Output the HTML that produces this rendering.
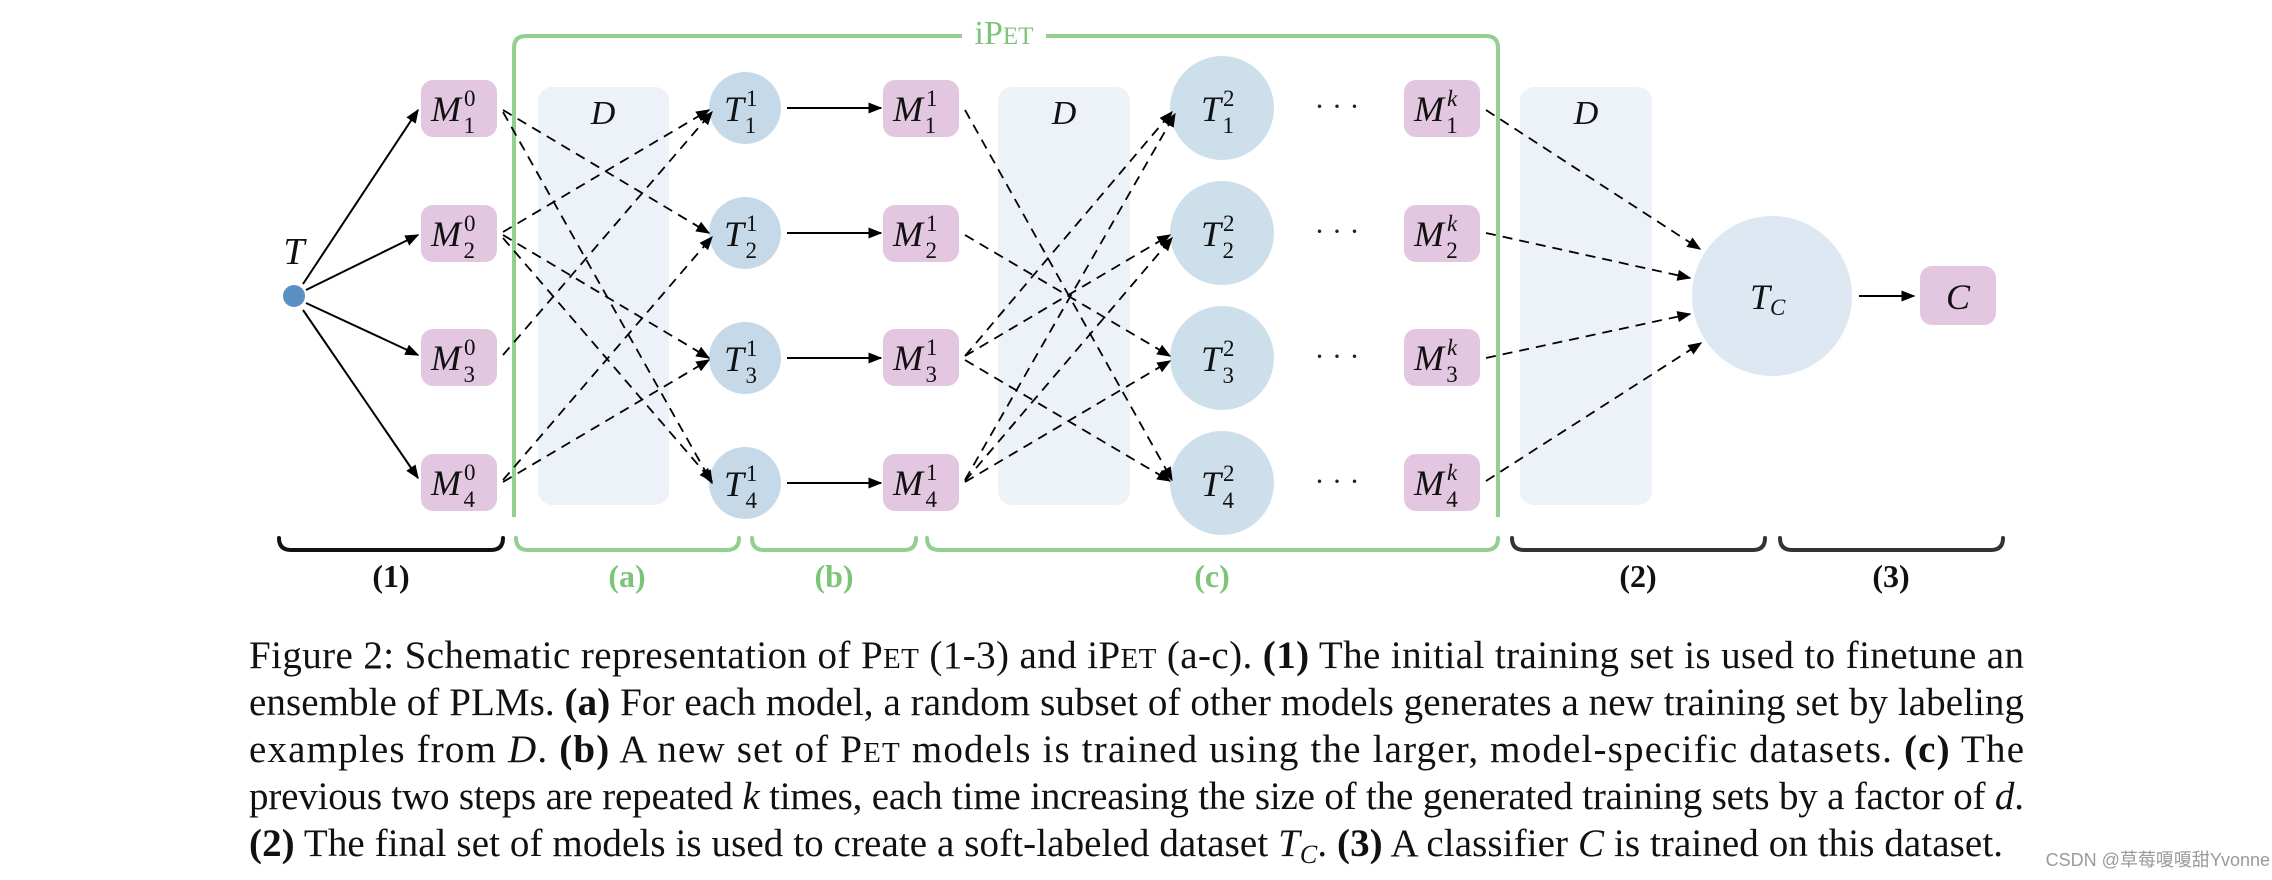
<!DOCTYPE html>
<html><head><meta charset="utf-8"><style>
html,body{margin:0;padding:0;background:#fff;}
svg{display:block;}
.m{font-family:"Liberation Serif",serif;font-style:italic;}
.cap{font-family:"Liberation Serif",serif;font-size:39px;fill:#111;}
</style></head><body>
<svg width="2272" height="880" viewBox="0 0 2272 880" xmlns="http://www.w3.org/2000/svg">
<defs>
<marker id="ah" viewBox="0 0 10 10" refX="9" refY="5" markerWidth="14" markerHeight="14" markerUnits="userSpaceOnUse" orient="auto"><path d="M0,1 L10,5 L0,9 z" fill="#000"/></marker>
</defs>
<rect x="538" y="87" width="131" height="418" rx="14" fill="#edf2f8"/>
<rect x="998" y="87" width="132" height="418" rx="14" fill="#edf2f8"/>
<rect x="1520" y="87" width="132" height="418" rx="14" fill="#edf2f8"/>
<g class="m" font-size="34" fill="#111" text-anchor="middle">
<text x="603" y="124">D</text><text x="1064" y="124">D</text><text x="1586" y="124">D</text>
</g>
<path d="M514,517 L514,48 Q514,36 526,36 L962,36" fill="none" stroke="#93d08f" stroke-width="4"/>
<path d="M1046,36 L1486,36 Q1498,36 1498,48 L1498,517" fill="none" stroke="#93d08f" stroke-width="4"/>
<text x="1004" y="44" font-family="Liberation Serif,serif" font-size="34" fill="#7cc478" text-anchor="middle">iP<tspan font-size="25">ET</tspan></text>

<text x="294" y="264" class="m" font-size="38" text-anchor="middle" fill="#111">T</text>
<circle cx="294" cy="296" r="11" fill="#5b8fc2"/>
<g stroke="#000" stroke-width="2" marker-end="url(#ah)">
<line x1="303" y1="284" x2="418" y2="110"/>
<line x1="306" y1="290" x2="418" y2="235"/>
<line x1="306" y1="303" x2="418" y2="355"/>
<line x1="303" y1="310" x2="418" y2="478"/>
</g>

<g fill="#e3c6df">
<rect x="421" y="80" width="76" height="57" rx="12"/><rect x="421" y="205" width="76" height="57" rx="12"/>
<rect x="421" y="329" width="76" height="57" rx="12"/><rect x="421" y="454" width="76" height="57" rx="12"/>
<rect x="883" y="80" width="76" height="57" rx="12"/><rect x="883" y="205" width="76" height="57" rx="12"/>
<rect x="883" y="329" width="76" height="57" rx="12"/><rect x="883" y="454" width="76" height="57" rx="12"/>
<rect x="1404" y="80" width="76" height="57" rx="12"/><rect x="1404" y="205" width="76" height="57" rx="12"/>
<rect x="1404" y="329" width="76" height="57" rx="12"/><rect x="1404" y="454" width="76" height="57" rx="12"/>
<rect x="1920" y="266" width="76" height="59" rx="12"/>
</g>
<g fill="#c6d9e8">
<circle cx="745" cy="108" r="36"/><circle cx="745" cy="233" r="36"/><circle cx="745" cy="358" r="36"/><circle cx="745" cy="483" r="36"/>
</g>
<g fill="#cddfeb">
<circle cx="1222" cy="108" r="52"/><circle cx="1222" cy="233" r="52"/><circle cx="1222" cy="358" r="52"/><circle cx="1222" cy="483" r="52"/>
</g>
<circle cx="1772" cy="296" r="80" fill="#dde8f2"/>

<g class="m" font-size="36" fill="#111">
<text x="431" y="121">M<tspan font-size="23" font-style="normal" dy="-15" dx="3">0</tspan><tspan font-size="23" font-style="normal" dy="27" dx="-12">1</tspan></text>
<text x="431" y="246">M<tspan font-size="23" font-style="normal" dy="-15" dx="3">0</tspan><tspan font-size="23" font-style="normal" dy="27" dx="-12">2</tspan></text>
<text x="431" y="370">M<tspan font-size="23" font-style="normal" dy="-15" dx="3">0</tspan><tspan font-size="23" font-style="normal" dy="27" dx="-12">3</tspan></text>
<text x="431" y="495">M<tspan font-size="23" font-style="normal" dy="-15" dx="3">0</tspan><tspan font-size="23" font-style="normal" dy="27" dx="-12">4</tspan></text>
<text x="893" y="121">M<tspan font-size="23" font-style="normal" dy="-15" dx="3">1</tspan><tspan font-size="23" font-style="normal" dy="27" dx="-12">1</tspan></text>
<text x="893" y="246">M<tspan font-size="23" font-style="normal" dy="-15" dx="3">1</tspan><tspan font-size="23" font-style="normal" dy="27" dx="-12">2</tspan></text>
<text x="893" y="370">M<tspan font-size="23" font-style="normal" dy="-15" dx="3">1</tspan><tspan font-size="23" font-style="normal" dy="27" dx="-12">3</tspan></text>
<text x="893" y="495">M<tspan font-size="23" font-style="normal" dy="-15" dx="3">1</tspan><tspan font-size="23" font-style="normal" dy="27" dx="-12">4</tspan></text>
<text x="1414" y="121">M<tspan font-size="23" dy="-15" dx="3">k</tspan><tspan font-size="23" font-style="normal" dy="27" dx="-11">1</tspan></text>
<text x="1414" y="246">M<tspan font-size="23" dy="-15" dx="3">k</tspan><tspan font-size="23" font-style="normal" dy="27" dx="-11">2</tspan></text>
<text x="1414" y="370">M<tspan font-size="23" dy="-15" dx="3">k</tspan><tspan font-size="23" font-style="normal" dy="27" dx="-11">3</tspan></text>
<text x="1414" y="495">M<tspan font-size="23" dy="-15" dx="3">k</tspan><tspan font-size="23" font-style="normal" dy="27" dx="-11">4</tspan></text>
<text x="724" y="121">T<tspan font-size="23" font-style="normal" dy="-15" dx="2">1</tspan><tspan font-size="23" font-style="normal" dy="27" dx="-12">1</tspan></text>
<text x="724" y="246">T<tspan font-size="23" font-style="normal" dy="-15" dx="2">1</tspan><tspan font-size="23" font-style="normal" dy="27" dx="-12">2</tspan></text>
<text x="724" y="371">T<tspan font-size="23" font-style="normal" dy="-15" dx="2">1</tspan><tspan font-size="23" font-style="normal" dy="27" dx="-12">3</tspan></text>
<text x="724" y="496">T<tspan font-size="23" font-style="normal" dy="-15" dx="2">1</tspan><tspan font-size="23" font-style="normal" dy="27" dx="-12">4</tspan></text>
<text x="1201" y="121">T<tspan font-size="23" font-style="normal" dy="-15" dx="2">2</tspan><tspan font-size="23" font-style="normal" dy="27" dx="-12">1</tspan></text>
<text x="1201" y="246">T<tspan font-size="23" font-style="normal" dy="-15" dx="2">2</tspan><tspan font-size="23" font-style="normal" dy="27" dx="-12">2</tspan></text>
<text x="1201" y="371">T<tspan font-size="23" font-style="normal" dy="-15" dx="2">2</tspan><tspan font-size="23" font-style="normal" dy="27" dx="-12">3</tspan></text>
<text x="1201" y="496">T<tspan font-size="23" font-style="normal" dy="-15" dx="2">2</tspan><tspan font-size="23" font-style="normal" dy="27" dx="-12">4</tspan></text>
<text x="1750" y="309">T<tspan font-size="23" dy="6">C</tspan></text>
<text x="1958" y="309" text-anchor="middle">C</text>
</g>
<g font-family="Liberation Serif,serif" font-size="30" fill="#222" text-anchor="middle">
<text x="1337" y="116">· · ·</text><text x="1337" y="241">· · ·</text><text x="1337" y="366">· · ·</text><text x="1337" y="491">· · ·</text>
</g>

<g stroke="#000" stroke-width="2" marker-end="url(#ah)">
<line x1="787" y1="108" x2="881" y2="108"/><line x1="787" y1="233" x2="881" y2="233"/>
<line x1="787" y1="358" x2="881" y2="358"/><line x1="787" y1="483" x2="881" y2="483"/>
<line x1="1859" y1="296" x2="1914" y2="296"/>
</g>
<g stroke="#000" stroke-width="1.8" stroke-dasharray="10,7" fill="none" marker-end="url(#ah)">
<line x1="503" y1="110" x2="709" y2="233"/>
<line x1="503" y1="112" x2="712" y2="483"/>
<line x1="503" y1="232" x2="709" y2="110"/>
<line x1="503" y1="235" x2="709" y2="358"/>
<line x1="503" y1="238" x2="712" y2="481"/>
<line x1="503" y1="355" x2="712" y2="112"/>
<line x1="503" y1="480" x2="712" y2="237"/>
<line x1="503" y1="482" x2="709" y2="360"/>
<line x1="965" y1="110" x2="1172" y2="480"/>
<line x1="965" y1="235" x2="1170" y2="356"/>
<line x1="965" y1="356" x2="1172" y2="112"/>
<line x1="965" y1="356" x2="1170" y2="235"/>
<line x1="965" y1="360" x2="1170" y2="481"/>
<line x1="965" y1="480" x2="1175" y2="114"/>
<line x1="965" y1="481" x2="1172" y2="238"/>
<line x1="965" y1="482" x2="1170" y2="361"/>
<line x1="1486" y1="110" x2="1700" y2="249"/>
<line x1="1486" y1="233" x2="1690" y2="278"/>
<line x1="1486" y1="358" x2="1690" y2="314"/>
<line x1="1486" y1="481" x2="1701" y2="343"/>
</g>

<g fill="none" stroke-width="4" stroke-linecap="round">
<path d="M279,538 Q279,550 291,550 L491,550 Q503,550 503,538" stroke="#111"/>
<path d="M516,538 Q516,550 528,550 L727,550 Q739,550 739,538" stroke="#93d08f"/>
<path d="M752,538 Q752,550 764,550 L904,550 Q916,550 916,538" stroke="#93d08f"/>
<path d="M927,538 Q927,550 939,550 L1486,550 Q1498,550 1498,538" stroke="#93d08f"/>
<path d="M1512,538 Q1512,550 1524,550 L1753,550 Q1765,550 1765,538" stroke="#333"/>
<path d="M1780,538 Q1780,550 1792,550 L1991,550 Q2003,550 2003,538" stroke="#333"/>
</g>
<g font-family="Liberation Serif,serif" font-size="32" font-weight="bold" text-anchor="middle">
<text x="391" y="587" fill="#111">(1)</text>
<text x="627" y="587" fill="#7cc478">(a)</text>
<text x="834" y="587" fill="#7cc478">(b)</text>
<text x="1212" y="587" fill="#7cc478">(c)</text>
<text x="1638" y="587" fill="#111">(2)</text>
<text x="1891" y="587" fill="#111">(3)</text>
</g>

<g class="cap">
<text x="249" y="668" textLength="1775" lengthAdjust="spacing">Figure 2: Schematic representation of P<tspan font-size="29">ET</tspan> (1-3) and iP<tspan font-size="29">ET</tspan> (a-c). <tspan font-weight="bold">(1)</tspan> The initial training set is used to finetune an</text>
<text x="249" y="715" textLength="1775" lengthAdjust="spacing">ensemble of PLMs. <tspan font-weight="bold">(a)</tspan> For each model, a random subset of other models generates a new training set by labeling</text>
<text x="249" y="762" textLength="1775" lengthAdjust="spacing">examples from <tspan font-style="italic">D</tspan>.  <tspan font-weight="bold">(b)</tspan> A new set of P<tspan font-size="29">ET</tspan> models is trained using the larger, model-specific datasets.  <tspan font-weight="bold">(c)</tspan> The</text>
<text x="249" y="809" textLength="1775" lengthAdjust="spacing">previous two steps are repeated <tspan font-style="italic">k</tspan> times, each time increasing the size of the generated training sets by a factor of <tspan font-style="italic">d</tspan>.</text>
<text x="249" y="856" textLength="1754" lengthAdjust="spacing"><tspan font-weight="bold">(2)</tspan> The final set of models is used to create a soft-labeled dataset <tspan font-style="italic">T</tspan><tspan font-style="italic" font-size="26" dy="7">C</tspan><tspan dy="-7">. </tspan><tspan font-weight="bold">(3)</tspan> A classifier <tspan font-style="italic">C</tspan> is trained on this dataset.</text>
</g>
<text x="2270" y="866" text-anchor="end" font-family="Liberation Sans,'Noto Sans CJK SC',sans-serif" font-size="18" fill="#9a9a9a">CSDN @草莓嗄嗄甜Yvonne</text>
</svg>
</body></html>
